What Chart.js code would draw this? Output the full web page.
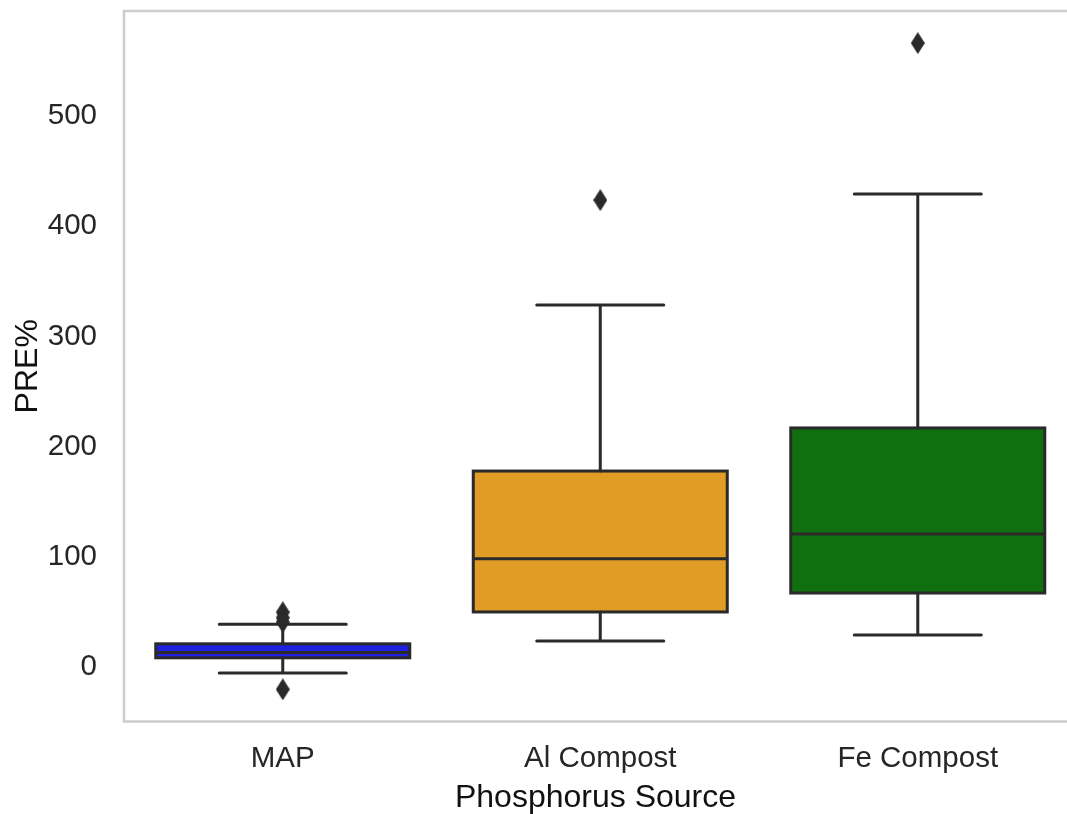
<!DOCTYPE html>
<html>
<head>
<meta charset="utf-8">
<title>PRE% by Phosphorus Source</title>
<script src="https://cdn.jsdelivr.net/npm/chart.js@4.4.1/dist/chart.umd.min.js"></script>
<style>
  html, body { margin: 0; padding: 0; background: #ffffff; }
  #chart { display: block; }
</style>
</head>
<body>
<canvas id="chart" width="1067" height="814"></canvas>
<script>
'use strict';
// ******* Data *******
const categories = ['MAP', 'Al Compost', 'Fe Compost'];
const q1Values = [5.6, 47.2, 64.4];
const medianValues = [10.4, 95.6, 118];
const q3Values = [18.3, 175.1, 214.2];
const whiskerLow = [-8.2, 20.9, 26.3];
const whiskerHigh = [36, 325.8, 426.5];
const outlierValues = [[47, 42, 38, -23], [421], [563.5]];
const boxColors = ['#2020df', '#e09c24', '#107010'];
const yTicks = [0, 100, 200, 300, 400, 500];

const lineColor = '#2a2a2a';
const fontFamily = '"Liberation Sans", Arial, sans-serif';

// ****** Build datasets ******
let boxData = [];
for (let i = 0; i < categories.length; i++) {
  boxData.push({ x: i, y: [q1Values[i], q3Values[i]] });
}

let outlierData = [];
for (let i = 0; i < outlierValues.length; i++) {
  for (let j = 0; j < outlierValues[i].length; j++) {
    outlierData.push({ x: i, y: outlierValues[i][j] });
  }
}

// thin diamond marker like matplotlib 'd'
let diamond = document.createElement('canvas');
diamond.width = 14;
diamond.height = 22;
let dctx = diamond.getContext('2d');
dctx.fillStyle = lineColor;
dctx.beginPath();
dctx.moveTo(7, 0);
dctx.lineTo(14, 11);
dctx.lineTo(7, 22);
dctx.lineTo(0, 11);
dctx.closePath();
dctx.fill();

// ****** Plugins ******
// axes frame: the right side of it is cut off in the picture
const framePlugin = {
  id: 'frame',
  beforeDatasetsDraw(chart) {
    const { ctx, chartArea } = chart;
    ctx.save();
    ctx.strokeStyle = '#cccccc';
    ctx.lineWidth = 2.5;
    ctx.beginPath();
    ctx.moveTo(chart.width, chartArea.top);
    ctx.lineTo(chartArea.left, chartArea.top);
    ctx.lineTo(chartArea.left, chartArea.bottom);
    ctx.lineTo(chart.width, chartArea.bottom);
    ctx.stroke();
    ctx.restore();
  }
};

// box outlines, medians, whiskers and caps (matplotlib style, centred strokes)
const whiskerPlugin = {
  id: 'whiskers',
  afterDatasetsDraw(chart) {
    const { ctx } = chart;
    const xScale = chart.scales.x;
    const yScale = chart.scales.y;
    const meta = chart.getDatasetMeta(0);
    ctx.save();
    ctx.strokeStyle = lineColor;
    ctx.lineWidth = 3;
    for (let i = 0; i < categories.length; i++) {
      const x = xScale.getPixelForValue(i);
      const half = meta.data[i].width / 2;
      const capHalf = half / 2;
      const yQ1 = yScale.getPixelForValue(q1Values[i]);
      const yQ3 = yScale.getPixelForValue(q3Values[i]);
      const yLo = yScale.getPixelForValue(whiskerLow[i]);
      const yHi = yScale.getPixelForValue(whiskerHigh[i]);
      const yMed = yScale.getPixelForValue(medianValues[i]);

      ctx.lineCap = 'round';
      ctx.beginPath();
      ctx.moveTo(x, yQ3);
      ctx.lineTo(x, yHi);
      ctx.moveTo(x - capHalf, yHi);
      ctx.lineTo(x + capHalf, yHi);
      ctx.moveTo(x, yQ1);
      ctx.lineTo(x, yLo);
      ctx.moveTo(x - capHalf, yLo);
      ctx.lineTo(x + capHalf, yLo);
      ctx.stroke();

      ctx.lineCap = 'butt';
      ctx.beginPath();
      ctx.moveTo(x - half, yMed);
      ctx.lineTo(x + half, yMed);
      ctx.stroke();

      ctx.strokeRect(x - half, yQ3, half * 2, yQ1 - yQ3);
    }
    ctx.restore();
  }
};

// ****** Chart ******
let ctx = document.getElementById('chart');

new Chart(ctx, {
  type: 'bar',
  data: {
    datasets: [{
      type: 'bar',
      data: boxData,
      backgroundColor: boxColors,
      borderWidth: 0,
      categoryPercentage: 0.8,
      barPercentage: 1.0
    },
    {
      type: 'scatter',
      data: outlierData,
      pointStyle: diamond,
      pointRadius: 8,
      pointHoverRadius: 8
    }]
  },
  options: {
    responsive: false,
    animation: false,
    events: [],
    layout: {
      autoPadding: false,
      padding: { top: 11, right: 0, left: 0, bottom: 0 }
    },
    plugins: {
      legend: { display: false },
      tooltip: { enabled: false }
    },
    scales: {
      x: {
        type: 'linear',
        offset: false,
        min: -0.5,
        max: 2.47,
        afterBuildTicks(scale) {
          scale.ticks = categories.map((c, i) => ({ value: i }));
        },
        afterFit(scale) {
          scale.height = 92.5;
          scale.paddingLeft = 0;
          scale.paddingRight = 0;
        },
        grid: { display: false, drawTicks: false, offset: false },
        border: { display: false },
        ticks: {
          padding: 20,
          color: '#262626',
          font: { family: fontFamily, size: 29.5 },
          callback: (value) => categories[value]
        },
        title: {
          display: true,
          text: 'Phosphorus Source',
          color: '#111111',
          font: { family: fontFamily, size: 32, lineHeight: 1 },
          padding: { top: 0, bottom: 0 }
        }
      },
      y: {
        min: -52.2,
        max: 592.6,
        afterBuildTicks(scale) {
          scale.ticks = yTicks.map((v) => ({ value: v }));
        },
        afterFit(scale) {
          scale.width = 124;
          scale.paddingTop = 0;
          scale.paddingBottom = 0;
        },
        grid: { display: false, drawTicks: false },
        border: { display: false },
        ticks: {
          padding: 27,
          labelOffset: 3,
          color: '#262626',
          font: { family: fontFamily, size: 29.5 }
        },
        title: {
          display: true,
          text: 'PRE%',
          color: '#111111',
          font: { family: fontFamily, size: 32, lineHeight: 1 },
          padding: { top: 12, bottom: 0 }
        }
      }
    }
  },
  plugins: [framePlugin, whiskerPlugin]
});
</script>
</body>
</html>
